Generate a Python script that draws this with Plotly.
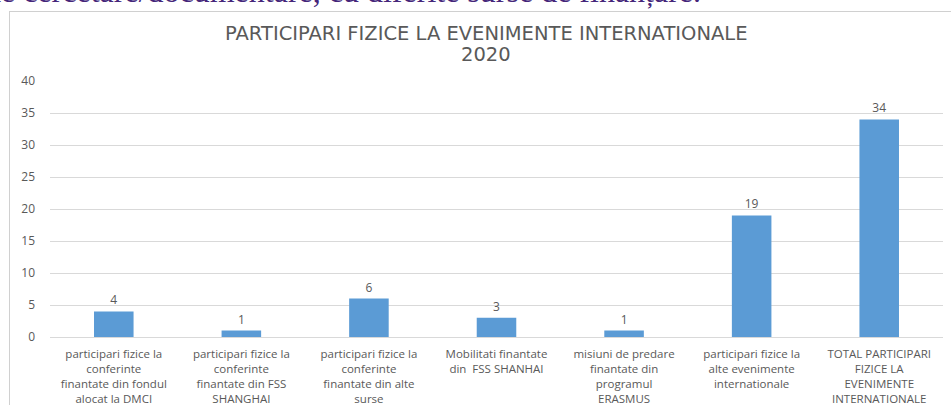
import plotly.graph_objects as go

categories = [
    "participari fizice la<br>conferinte<br>finantate din fondul<br>alocat la DMCI",
    "participari fizice la<br>conferinte<br>finantate din FSS<br>SHANGHAI",
    "participari fizice la<br>conferinte<br>finantate din alte<br>surse",
    "Mobilitati finantate<br>din  FSS SHANHAI",
    "misiuni de predare<br>finantate din<br>programul<br>ERASMUS",
    "participari fizice la<br>alte evenimente<br>internationale",
    "TOTAL PARTICIPARI<br>FIZICE LA<br>EVENIMENTE<br>INTERNATIONALE",
]
values = [4, 1, 6, 3, 1, 19, 34]
y_ticks = [0, 5, 10, 15, 20, 25, 30, 35, 40]
title_line1 = "PARTICIPARI FIZICE LA EVENIMENTE INTERNATIONALE"
title_line2 = "2020"
heading = "de cercetare/documentare, cu diferite surse de finanțare."

W, H = 951, 405
L, R, T, B = 50, 8, 81, 68
PH = H - T - B
PW = W - L - R

def px_x(x):
    return (x - L) / PW

def px_y(y):
    return (H - B - y) / PH

grey = "#595959"
font_family = "Open Sans, Liberation Sans, sans-serif"

fig = go.Figure(go.Bar(
    x=list(range(len(values))),
    y=values,
    marker=dict(color="#5b9bd5", line=dict(width=0)),
    width=0.31,
    text=[str(v) for v in values],
    textposition="outside",
    textfont=dict(color=grey, size=12, family=font_family),
    cliponaxis=False,
    hoverinfo="skip",
))

fig.update_layout(
    width=W, height=H,
    margin=dict(l=L, r=R, t=T, b=B, pad=0),
    paper_bgcolor="white", plot_bgcolor="white",
    showlegend=False,
    font=dict(family=font_family, color=grey, size=12),
    xaxis=dict(
        tickmode="array", tickvals=list(range(len(values))), ticktext=categories,
        range=[-0.5, len(values) - 0.5], showgrid=False, zeroline=False,
        showline=True, linecolor="#d9d9d9", linewidth=1, ticks="",
        tickangle=0, tickfont=dict(size=11.5, color=grey, family=font_family),
        ticklabelstandoff=6, automargin=False,
    ),
    yaxis=dict(
        range=[0, 40], tickvals=y_ticks, showgrid=True, gridcolor="#d9d9d9",
        gridwidth=1, zeroline=False, showline=False, ticks="",
        tickfont=dict(size=12, color=grey, family=font_family),
        ticklabelstandoff=14, automargin=False,
    ),
    annotations=[
        dict(text=title_line1,
             xref="paper", yref="paper", x=px_x(486), y=px_y(33),
             xanchor="center", yanchor="middle", showarrow=False,
             font=dict(size=19.5, color=grey, family="DejaVu Sans, sans-serif")),
        dict(text=title_line2,
             xref="paper", yref="paper", x=px_x(486), y=px_y(54),
             xanchor="center", yanchor="middle", showarrow=False,
             font=dict(size=19.5, color=grey, family="DejaVu Sans, sans-serif")),
        dict(text=heading,
             xref="paper", yref="paper", x=px_x(703), y=px_y(11.5),
             xanchor="right", yanchor="bottom", showarrow=False,
             font=dict(size=32, color="#45267a", family="Liberation Serif, serif")),
    ],
    shapes=[
        dict(type="line", xref="paper", yref="paper",
             x0=px_x(9), x1=px_x(960), y0=px_y(11.5), y1=px_y(11.5),
             line=dict(color="#d0d0d0", width=1)),
        dict(type="line", xref="paper", yref="paper",
             x0=px_x(9.5), x1=px_x(9.5), y0=px_y(11), y1=px_y(410),
             line=dict(color="#d0d0d0", width=1)),
    ],
)

fig.write_html(
    "out.html",
    config={"displayModeBar": False},
    post_script="document.body.style.margin='0';document.body.style.overflow='hidden';",
)
